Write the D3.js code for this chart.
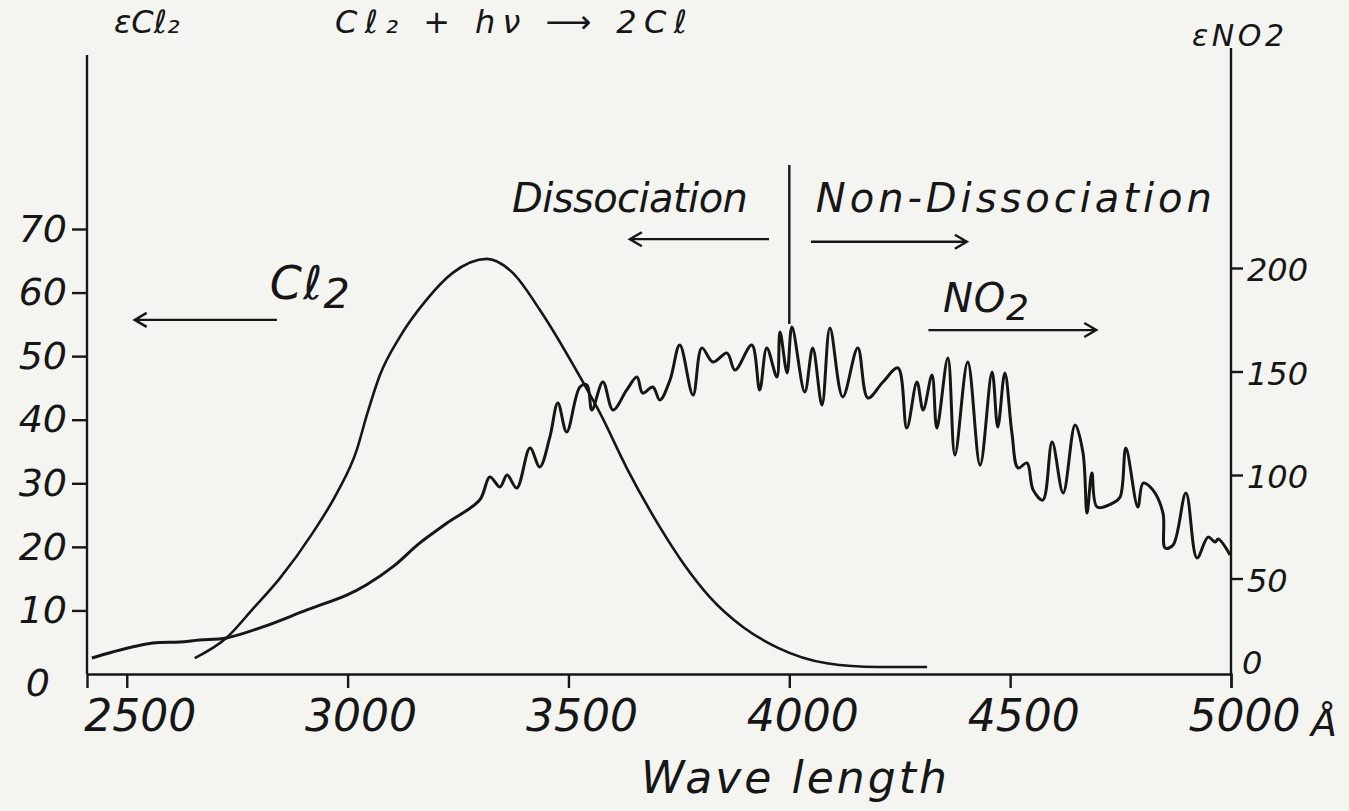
<!DOCTYPE html>
<html>
<head>
<meta charset="utf-8">
<script src="https://cdn.jsdelivr.net/npm/d3@7"></script>
<style>
  body { margin: 0; background: #f4f4f1; }
  svg { display: block; }
  text { font-family: "DejaVu Sans", sans-serif; font-style: italic; fill: #161616; }
  .axis path, .axis line { stroke: #161616; stroke-width: 2.4; }
</style>
</head>
<body>
<svg width="1349" height="811"></svg>
<script>
// wave length (Å) and extinction
var cl2Wave = [2654, 2726, 2785, 2846, 2921, 2976, 3021, 3043, 3073, 3118, 3179, 3238, 3315,
    3374, 3435, 3533, 3571, 3632, 3707, 3759, 3820, 3895, 3972, 4085, 4198, 4312];
var cl2Eps = [2.5, 5.7, 10.2, 15.0, 22.2, 28.5, 35.3, 40.6, 47.0, 53.0, 58.9, 63.1, 65.3,
    63.1, 57.3, 45.9, 41.1, 32.4, 23.1, 17.5, 12.1, 7.4, 4.2, 1.7, 1.1, 1.1];

var no2Wave = [2421, 2468, 2559, 2620, 2665, 2726, 2808, 2908, 2998, 3043,
    3102, 3163, 3225, 3299, 3322, 3345, 3361, 3383, 3413, 3435,
    3458, 3476, 3496, 3526, 3542, 3553, 3578, 3601, 3632, 3655,
    3668, 3691, 3707, 3730, 3752, 3782, 3802, 3827, 3859, 3877,
    3915, 3933, 3949, 3972, 3979, 3995, 4006, 4035, 4053, 4074,
    4092, 4121, 4155, 4178, 4212, 4246, 4266, 4289, 4303, 4323,
    4334, 4359, 4375, 4404, 4432, 4459, 4472, 4488, 4504, 4518,
    4538, 4552, 4574, 4595, 4620, 4647, 4665, 4674, 4685, 4697,
    4733, 4749, 4762, 4789, 4801, 4823, 4846, 4851, 4869, 4898,
    4923, 4948, 4964, 4971, 4998];
var no2Eps = [11.6, 14.5, 18.8, 19.3, 20.3, 21.3, 26.6, 34.8, 42.0, 47.0,
    55.6, 67.1, 76.8, 87.9, 99.0, 94.2, 100, 93.7, 113, 103.9,
    118.4, 134.8, 120.8, 142.5, 143.5, 131.4, 144.9, 131.4, 141.1, 147.3,
    139.6, 142.5, 136.2, 145.9, 162.8, 138.6, 161.4, 154.6, 158.9, 150.7,
    162.8, 141.1, 161.4, 147.3, 169.1, 149.3, 171.5, 140.1, 161.4, 133.8,
    171.0, 137.7, 161.4, 137.2, 144.9, 151.7, 122.7, 144.9, 131.4, 148.3,
    122.7, 156.5, 109.7, 154.6, 104.8, 149.8, 123.2, 149.3, 120.3, 103.4,
    105.8, 92.8, 87.9, 115.9, 91.3, 124.2, 110.6, 81.6, 101.0, 84.5,
    86.5, 89.4, 113.0, 84.5, 96.1, 92.8, 81.6, 64.7, 66.2, 91.3,
    59.9, 70.0, 67.6, 69.1, 61.4];

var waveTicks = [2500, 3000, 3500, 4000, 4500, 5000];
var cl2Ticks = [10, 20, 30, 40, 50, 60, 70];
var no2Ticks = [50, 100, 150, 200];

var svg = d3.select('svg');

// layout
var left = 87, right = 1231, bottom = 674;

var x = d3.scaleLinear().domain([2410, 5000]).range([left, right]);
var yL = d3.scaleLinear().domain([0, 70]).range([bottom, 229]);
var yR = d3.scaleLinear().domain([0, 200]).range([682, 268]);

// axes
var xAxisG = svg.append('g').attr('class', 'axis')
    .attr('transform', 'translate(0,' + bottom + ')')
    .call(d3.axisBottom(x).tickValues(waveTicks).tickFormat(d3.format('d'))
        .tickSizeOuter(0).tickSize(14).tickPadding(12));
xAxisG.selectAll('text').attr('font-size', 44).attr('dx', 13);

var yLG = svg.append('g').attr('class', 'axis')
    .attr('transform', 'translate(' + left + ',0)')
    .call(d3.axisLeft(yL).tickValues(cl2Ticks).tickSizeOuter(0).tickSize(15).tickPadding(5));
yLG.select('.domain').remove();
yLG.selectAll('text').attr('font-size', 38);

var yRG = svg.append('g').attr('class', 'axis')
    .attr('transform', 'translate(' + right + ',0)')
    .call(d3.axisRight(yR).tickValues(no2Ticks).tickSizeOuter(0).tickSize(12).tickPadding(4));
yRG.select('.domain').remove();
yRG.selectAll('text').attr('font-size', 32).attr('dy', '0.4em');

svg.append('line').attr('x1', left).attr('x2', left).attr('y1', bottom).attr('y2', 55)
    .attr('stroke', '#161616').attr('stroke-width', 2.4);
svg.append('line').attr('x1', right).attr('x2', right).attr('y1', bottom).attr('y2', 48)
    .attr('stroke', '#161616').attr('stroke-width', 2.4);

svg.append('text').attr('x', 50).attr('y', 696).attr('font-size', 38).attr('text-anchor', 'end').text('0');
svg.append('text').attr('x', 1242).attr('y', 674).attr('font-size', 32).text('0');
svg.append('text').attr('x', x(5000) + 80).attr('y', 736).attr('font-size', 38).text('Å');

// curves
var cl2Data = cl2Wave.map(function (w, i) { return { w: w, e: cl2Eps[i] }; });
var no2Data = no2Wave.map(function (w, i) { return { w: w, e: no2Eps[i] }; });

svg.append('path').datum(cl2Data)
    .attr('fill', 'none').attr('stroke', '#161616').attr('stroke-width', 2.6)
    .attr('d', d3.line().x(function (d) { return x(d.w); }).y(function (d) { return yL(d.e); })
        .curve(d3.curveMonotoneX));

svg.append('path').datum(no2Data)
    .attr('fill', 'none').attr('stroke', '#161616').attr('stroke-width', 3).attr('stroke-linejoin', 'round')
    .attr('d', d3.line().x(function (d) { return x(d.w); }).y(function (d) { return yR(d.e); })
        .curve(d3.curveCatmullRom.alpha(0.5)));

// divider at 4000 Å
svg.append('line').attr('x1', x(4000)).attr('x2', x(4000)).attr('y1', 165).attr('y2', 324)
    .attr('stroke', '#161616').attr('stroke-width', 2.4);

// arrows (in data units, left axis)
function arrow(w1, w2, v) {
    var x1 = x(w1), x2 = x(w2), y = yL(v), d = x2 > x1 ? -1 : 1;
    svg.append('path')
        .attr('d', 'M' + x1 + ',' + y + 'L' + x2 + ',' + y +
            'M' + (x2 + d * 12) + ',' + (y - 7) + 'L' + x2 + ',' + y + 'L' + (x2 + d * 12) + ',' + (y + 7))
        .attr('fill', 'none').attr('stroke', '#161616').attr('stroke-width', 2.4);
}
arrow(2840, 2518, 55.7);
arrow(3954, 3639, 68.4);
arrow(4049, 4402, 68.0);
arrow(4315, 4695, 54.1);

// labels
function label(w, v, size, len, main, sub) {
    var t = svg.append('text').attr('x', x(w)).attr('y', yL(v)).attr('font-size', size);
    t.append('tspan').text(main);
    if (sub) t.append('tspan').attr('dy', size * 0.2).attr('font-size', size * 0.9).text(sub);
    if (len) t.attr('textLength', len).attr('lengthAdjust', 'spacing');
    return t;
}
label(3372, 72.7, 40, 236, 'Dissociation');
label(4060, 72.7, 40, 396, 'Non-Dissociation');
label(2824, 59.0, 46, 80, 'Cℓ', '2');
label(4348, 57.0, 40, 86, 'NO', '2');

svg.append('text').attr('x', 1192).attr('y', 46).attr('font-size', 30)
    .attr('textLength', 92).attr('lengthAdjust', 'spacing').text('εNO2');
svg.append('text').attr('x', 114).attr('y', 33).attr('font-size', 32).text('εCℓ₂');
svg.append('text').attr('x', 335).attr('y', 33).attr('font-size', 32)
    .attr('textLength', 352).attr('lengthAdjust', 'spacing').text('Cℓ₂ + hν ⟶ 2Cℓ');

svg.append('text').attr('x', 641).attr('y', 793).attr('font-size', 44)
    .attr('textLength', 306).attr('lengthAdjust', 'spacing').text('Wave length');
</script>
</body>
</html>
